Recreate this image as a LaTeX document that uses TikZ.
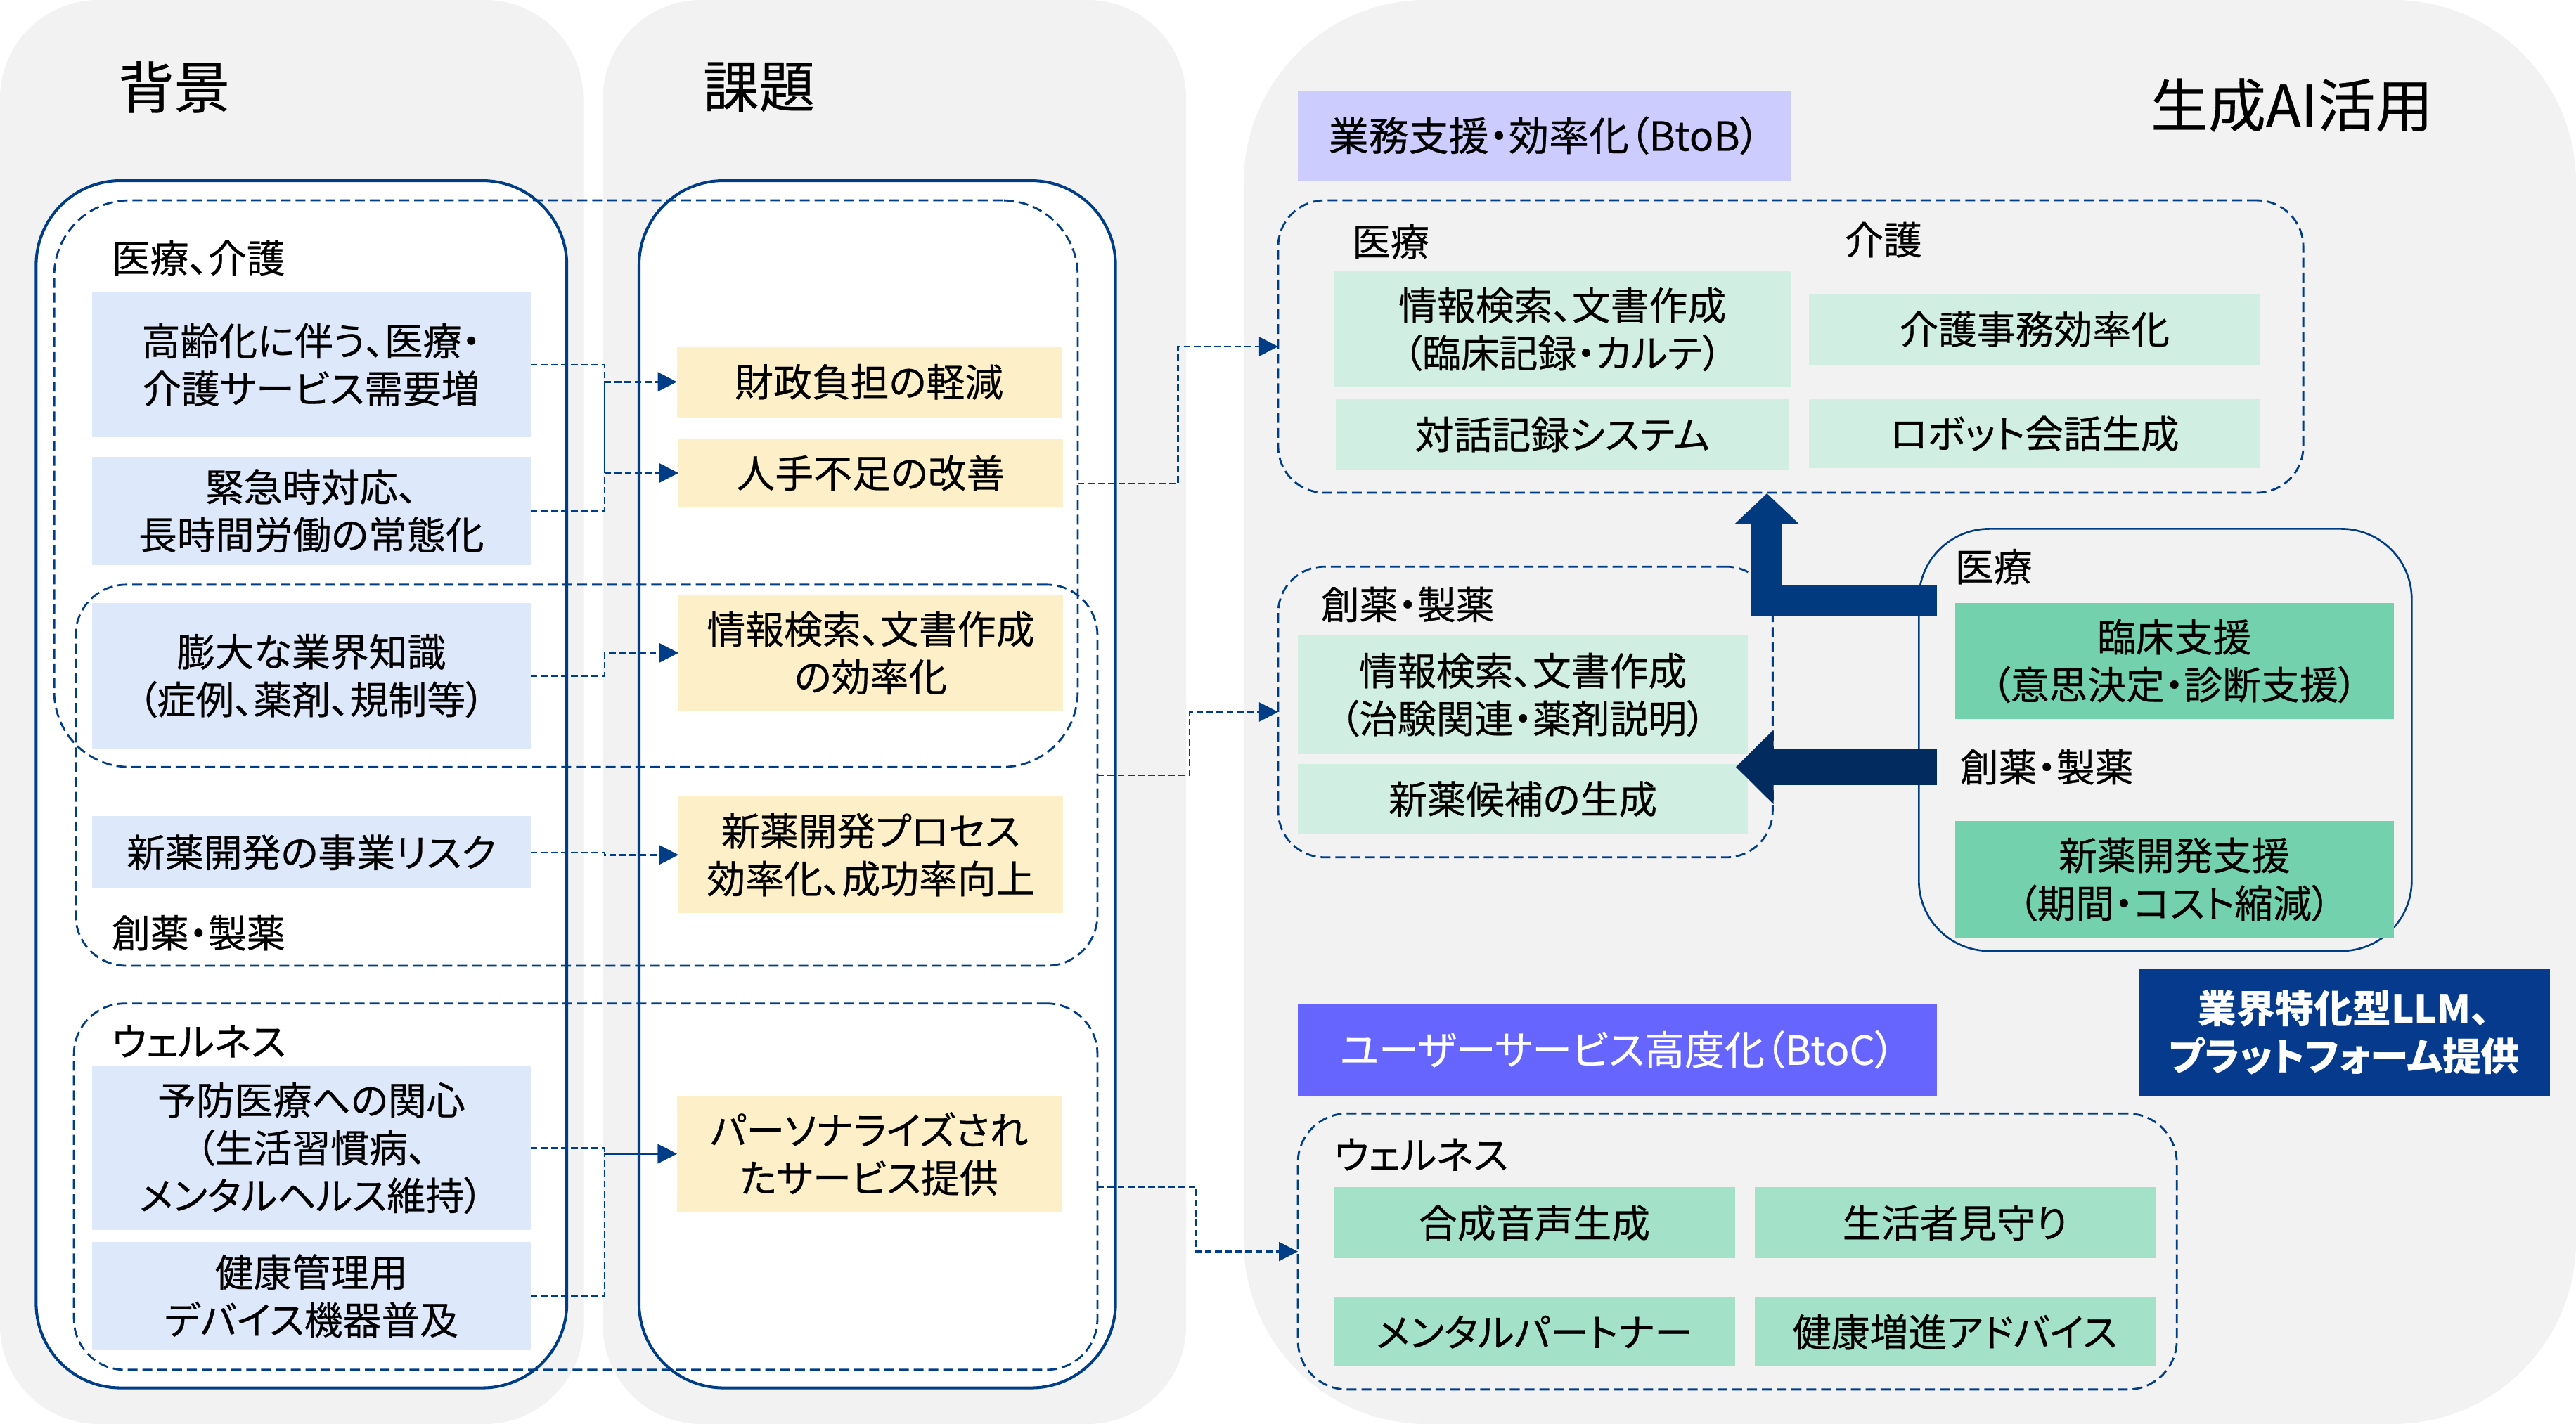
\documentclass[tikz,border=0pt]{standalone}
\usepackage{fontspec}
\setmainfont{Noto Sans CJK JP}[RawFeature=+palt, UprightFeatures={FakeBold=0.4}]
\usetikzlibrary{arrows.meta,calc}
\definecolor{panelgray}{RGB}{242,242,242}
\definecolor{lineblue}{RGB}{0,61,135}
\definecolor{cfill}{RGB}{222,232,251}
\definecolor{yfill}{RGB}{253,239,200}
\definecolor{mfill}{RGB}{208,238,225}
\definecolor{wfill}{RGB}{163,225,201}
\definecolor{gfill}{RGB}{116,209,174}
\definecolor{btobfill}{RGB}{204,204,255}
\definecolor{btocfill}{RGB}{102,102,255}
\definecolor{llmfill}{RGB}{6,58,140}
\definecolor{arrowup}{RGB}{2,58,128}
\definecolor{arrowleft}{RGB}{2,43,96}
\newcommand\bodyfont{\fontsize{15.6pt}{19.3pt}\selectfont}
\newcommand\titlefont{\fontsize{22.6pt}{27pt}\selectfont}
\newcommand\mybox[7]{\node[#6, minimum width={(#4-#2)*0.023367cm}, minimum height={(#5-#3)*0.023367cm}] (#1) at ({(#2+#4)/2},{(#3+#5)/2}) {#7};}
\begin{document}
\begin{tikzpicture}[x=0.023367cm,y=-0.023367cm,
  every node/.style={inner sep=0pt, outer sep=0pt},
  body/.style={font=\bodyfont, align=center},
  cbox/.style={body, fill=cfill},
  ybox/.style={body, fill=yfill},
  mbox/.style={body, fill=mfill},
  wbox/.style={body, fill=wfill},
  gbox/.style={body, fill=gfill},
  grp/.style={draw=lineblue, line width=0.8pt, dash pattern=on 4pt off 2pt},
  outline/.style={draw=lineblue, line width=1.15pt, fill=white},
  conn/.style={draw=lineblue, line width=0.7pt, dash pattern=on 2.7pt off 1.4pt, -{Triangle[length=0.27cm,width=0.27cm]}},
  lbl/.style={font=\bodyfont, anchor=west},
  ttl/.style={font=\titlefont},
]
\useasboundingbox (0,0) rectangle (1568,867);
\fill[white] (0,0) rectangle (1568,867);
% panels
\fill[panelgray, rounded corners=1.4cm] (0,0) rectangle (355,867);
\fill[panelgray, rounded corners=1.4cm] (367,0) rectangle (722,867);
\fill[panelgray, rounded corners=2.6cm] (757,0) rectangle (1568,867);
% titles
\node[ttl] (t1) at (106,53) {背景};
\node[ttl] (t2) at (462,53) {課題};
\node[font=\fontsize{23.3pt}{28pt}\selectfont] (t3) at (1395,64) {生成AI活用};
% solid outline boxes
\draw[outline, rounded corners=1.2cm] (22,110) rectangle (345,845);
\draw[outline, rounded corners=1.2cm] (389,110) rectangle (679,845);
% dashed groups left
\mybox{D1}{33}{122}{656}{467}{grp, rounded corners=1.07cm}{}
\mybox{D2}{46}{356}{668}{588}{grp, rounded corners=0.72cm}{}
\mybox{D3}{45}{611}{668}{834}{grp, rounded corners=0.72cm}{}
% labels left
\node[lbl] (l1) at (68,157) {医療、介護};
\node[lbl] (l2) at (68,568) {創薬・製薬};
\node[lbl] (l3) at (68,634) {ウェルネス};
% column 1
\mybox{b1}{56}{178}{323}{266}{cbox}{高齢化に伴う、医療・\\介護サービス需要増}
\mybox{b2}{56}{278}{323}{344}{cbox}{緊急時対応、\\長時間労働の常態化}
\mybox{b3}{56}{367}{323}{456}{cbox}{膨大な業界知識\\（症例、薬剤、規制等）}
\mybox{b4}{56}{497}{323}{541}{cbox}{新薬開発の事業リスク}
\mybox{b5}{56}{649}{323}{749}{cbox}{予防医療への関心\\（生活習慣病、\\メンタルヘルス維持）}
\mybox{b6}{56}{756}{323}{822}{cbox}{健康管理用\\デバイス機器普及}
% column 2
\mybox{y1}{412}{211}{646}{254}{ybox}{財政負担の軽減}
\mybox{y2}{413}{267}{647}{309}{ybox}{人手不足の改善}
\mybox{y3}{413}{362}{647}{433}{ybox}{情報検索、文書作成\\の効率化}
\mybox{y4}{413}{485}{647}{556}{ybox}{新薬開発プロセス\\効率化、成功率向上}
\mybox{y5}{412}{667}{646}{738}{ybox}{パーソナライズされ\\たサービス提供}
% column 3
\mybox{btob}{790}{55}{1090}{110}{body, fill=btobfill, font=\fontsize{16.2pt}{19.3pt}\selectfont}{業務支援・効率化（BtoB）}
\mybox{DB1}{778}{122}{1402}{300}{grp, rounded corners=0.66cm}{}
\node[lbl] (l4) at (823,147) {医療};
\node[lbl] (l5) at (1123,146) {介護};
\mybox{g1}{812}{165}{1090}{236}{mbox}{情報検索、文書作成\\（臨床記録・カルテ）}
\mybox{g2}{1101}{179}{1376}{222}{mbox}{介護事務効率化}
\mybox{g3}{813}{243}{1089}{286}{mbox}{対話記録システム}
\mybox{g4}{1101}{243}{1376}{285}{mbox}{ロボット会話生成}
\mybox{DB2}{778}{345}{1079}{522}{grp, rounded corners=0.66cm}{}
\node[lbl] (l6) at (804,368) {創薬・製薬};
\mybox{g5}{790}{387}{1064}{459}{mbox}{情報検索、文書作成\\（治験関連・薬剤説明）}
\mybox{g6}{790}{465}{1064}{508}{mbox}{新薬候補の生成}
\mybox{R}{1168}{322}{1468}{579}{draw=lineblue, line width=0.75pt, rounded corners=1cm}{}
\node[lbl] (l7) at (1190,345) {医療};
\mybox{r1}{1190}{367}{1457}{438}{gbox}{臨床支援\\（意思決定・診断支援）}
\node[lbl] (l8) at (1193,467) {創薬・製薬};
\mybox{r2}{1190}{500}{1457}{571}{gbox}{新薬開発支援\\（期間・コスト縮減）}
\mybox{llm}{1302}{590}{1552}{667}{body, fill=llmfill, text=white, font=\bodyfont\bfseries}{業界特化型LLM、\\プラットフォーム提供}
\mybox{btoc}{790}{611}{1179}{667}{body, fill=btocfill, text=white, font=\fontsize{16.2pt}{19.3pt}\selectfont}{ユーザーサービス高度化（BtoC）}
\mybox{DC}{790}{678}{1325}{846}{grp, rounded corners=0.7cm}{}
\node[lbl] (l9) at (812,703) {ウェルネス};
\mybox{w1}{812}{723}{1056}{766}{wbox}{合成音声生成}
\mybox{w2}{1068}{723}{1312}{766}{wbox}{生活者見守り}
\mybox{w3}{812}{790}{1056}{832}{wbox}{メンタルパートナー}
\mybox{w4}{1068}{790}{1312}{832}{wbox}{健康増進アドバイス}
% connectors
\draw[conn] (b1.east) -- ++(45,0) |- (y2.west);
\draw[conn] (b2.east) -- ++(45,0) |- (y1.west);
\draw[conn] (b3.east) -- ++(45,0) |- (y3.west);
\draw[conn] (b4.east) -- ++(45,0) |- (y4.west);
\draw[conn] (b5.east) -- ++(45,0) |- (y5.west);
\draw[conn] (b6.east) -- ++(45,0) |- (y5.west);
\draw[conn] (D1.east) -- ++(61,0) |- (DB1.west);
\draw[conn] (D2.east) -- ++(56,0) |- (DB2.west);
\draw[conn] (D3.east) -- ++(60,0) |- (DC.west);
% thick arrows
\coordinate (uaS) at (1179,366);
\coordinate (uaE) at (1075.5,300.4);
\coordinate (laS) at (1179,467);
\coordinate (laE) at (1056.6,467);
\draw[arrowup, line width=0.444cm, -{Triangle[length=0.43cm,width=0.88cm]}] (uaS) -| (uaE);
\draw[arrowleft, line width=0.519cm, -{Triangle[length=0.537cm,width=1.03cm]}] (laS) -- (laE);
\end{tikzpicture}
\end{document}
